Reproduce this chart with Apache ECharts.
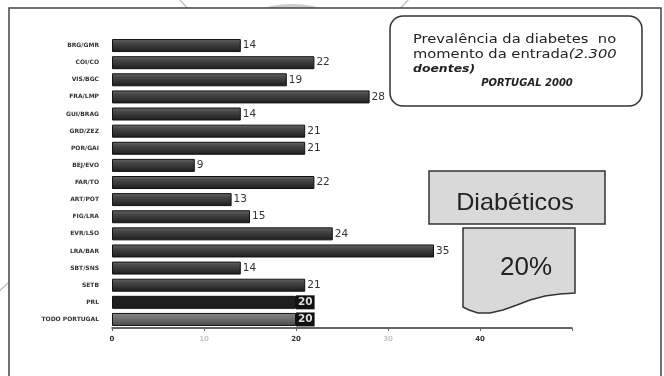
<!DOCTYPE html>
<html>
<head>
<meta charset="utf-8">
<script src="https://cdn.jsdelivr.net/npm/echarts@6/dist/echarts.min.js"></script>
<style>
  html, body { margin: 0; padding: 0; background: #fff; }
  #main { width: 664px; height: 376px; }
</style>
</head>
<body>
<div id="main"></div>
<script>
// categorias (siglas difíceis de ler no original) e percentagens
const categories = ['BRG/GMR', 'COI/CO', 'VIS/BGC', 'FRA/LMP', 'GUI/BRAG', 'GRD/ZEZ', 'POR/GAI',
  'BEJ/EVO', 'FAR/TO', 'ART/POT', 'FIG/LRA', 'EVR/LSO', 'LRA/BAR', 'SBT/SNS', 'SETB', 'PRL', 'TODO PORTUGAL']
const values = [14, 22, 19, 28, 14, 21, 21, 9, 22, 13, 15, 24, 35, 14, 21, 20, 20]
const xTicks = [0, 10, 20, 30, 40, 50]
const xTickLabels = ['0', '10', '20', '30', '40', '']
const faintTicks = ['10', '30']

const titleLines = ['Prevalência da diabetes  no', 'momento da entrada', '(2.300', 'doentes)', 'PORTUGAL 2000']
const boxLabel = 'Diabéticos'
const boxValue = '20%'

let myChart = echarts.init(document.getElementById('main'))

const barGrad = new echarts.graphic.LinearGradient(0, 0, 0, 1, [
  { offset: 0, color: '#6a6a6a' },
  { offset: 0.3, color: '#474747' },
  { offset: 0.7, color: '#303030' },
  { offset: 1, color: '#1a1a1a' }
])

const seriesData = values.map(function (v, i) {
  const item = { value: v }
  if (categories[i] === 'PRL') {
    item.itemStyle = { color: '#1e1e1e' }
  }
  if (categories[i] === 'TODO PORTUGAL') {
    item.itemStyle = {
      color: new echarts.graphic.LinearGradient(0, 0, 0, 1, [
        { offset: 0, color: '#8a8a8a' },
        { offset: 0.5, color: '#6a6a6a' },
        { offset: 1, color: '#4a4a4a' }
      ])
    }
  }
  if (categories[i] === 'PRL' || categories[i] === 'TODO PORTUGAL') {
    item.label = {
      backgroundColor: '#111',
      color: '#ddd',
      padding: [2, 2, 1, 2],
      distance: 0,
      fontWeight: 'bold'
    }
  }
  return item
})

const option = {
  animation: false,
  grid: { left: 112, right: 92, top: 37, bottom: 48 },
  xAxis: {
    type: 'value',
    min: 0,
    max: 50,
    interval: 10,
    splitLine: { show: false },
    axisLine: { show: true, lineStyle: { color: '#333', width: 1.5 } },
    axisTick: { show: true, length: 3, lineStyle: { color: '#666' } },
    axisLabel: {
      margin: 8,
      fontSize: 7,
      fontWeight: 'bold',
      fontFamily: 'DejaVu Sans',
      formatter: function (v) {
        const i = xTicks.indexOf(v)
        return i >= 0 ? xTickLabels[i] : ''
      },
      color: function (v) {
        return faintTicks.indexOf(String(v)) >= 0 ? '#c8c8c8' : '#333'
      }
    }
  },
  yAxis: {
    type: 'category',
    data: categories,
    inverse: true,
    axisLine: { show: false },
    axisTick: { show: false },
    axisLabel: {
      margin: 13,
      fontSize: 6,
      fontWeight: 'bold',
      fontFamily: 'DejaVu Sans',
      color: '#333'
    }
  },
  series: [{
    type: 'bar',
    data: seriesData,
    barWidth: 13,
    itemStyle: { color: barGrad, borderColor: '#111', borderWidth: 1 },
    label: {
      show: true,
      position: 'right',
      distance: 2,
      fontSize: 10.5,
      fontFamily: 'DejaVu Sans',
      color: '#333'
    }
  }],
  graphic: [
    // círculos decorativos do fundo
    { type: 'circle', z: -10, shape: { cx: 292, cy: 108, r: 104 }, style: { fill: '#cdcdcd' } },
    { type: 'circle', z: -10, shape: { cx: 294, cy: -99, r: 151 }, style: { fill: null, stroke: '#c4c4c4', lineWidth: 1.5 } },
    { type: 'circle', z: -10, shape: { cx: 170, cy: 460, r: 240 }, style: { fill: null, stroke: '#c4c4c4', lineWidth: 1.5 } },
    // moldura
    { type: 'rect', z: -5, shape: { x: 9, y: 8, width: 652, height: 400 }, style: { fill: '#fff', stroke: '#444', lineWidth: 1.5 } },
    // caixa do título
    { type: 'rect', z: 10, shape: { x: 390, y: 16, width: 252, height: 90, r: 13 }, style: { fill: '#fff', stroke: '#333', lineWidth: 1.5 } },
    {
      type: 'text', z: 11, x: 413, y: 32, scaleX: 1.13,
      style: {
        text: titleLines[0] + '\n' + titleLines[1] + '{i|' + titleLines[2] + '}\n{b|' + titleLines[3] + '}',
        font: '13px "DejaVu Sans"',
        lineHeight: 15,
        fill: '#222',
        rich: {
          i: { fontStyle: 'italic', fontSize: 13, fontFamily: 'DejaVu Sans', lineHeight: 15 },
          b: { fontStyle: 'italic', fontWeight: 'bold', fontSize: 11, fontFamily: 'DejaVu Sans', lineHeight: 15 }
        }
      }
    },
    {
      type: 'text', z: 11, x: 527, y: 83,
      style: {
        text: titleLines[4],
        font: 'italic bold 10px "DejaVu Sans"',
        fill: '#222',
        align: 'center',
        verticalAlign: 'middle'
      }
    },
    // caixa "Diabéticos"
    { type: 'rect', z: 10, shape: { x: 429, y: 171, width: 176, height: 53 }, style: { fill: '#d9d9d9', stroke: '#333', lineWidth: 1.5 } },
    {
      type: 'text', z: 11, x: 515, y: 203, scaleX: 1.05,
      style: { text: boxLabel, font: '24px "Liberation Sans"', fill: '#222', align: 'center', verticalAlign: 'middle' }
    },
    // caixa "20%" (forma de documento)
    {
      type: 'polygon', z: 10,
      shape: {
        points: [[463, 228], [575, 228], [575, 293], [560, 294], [545, 296], [530, 300], [517, 305],
          [503, 310], [490, 313], [478, 313], [469, 310], [463, 307]]
      },
      style: { fill: '#d9d9d9', stroke: '#333', lineWidth: 1.5 }
    },
    {
      type: 'text', z: 11, x: 526, y: 268,
      style: { text: boxValue, font: '26px "Liberation Sans"', fill: '#222', align: 'center', verticalAlign: 'middle' }
    }
  ]
}

myChart.setOption(option)
</script>
</body>
</html>
